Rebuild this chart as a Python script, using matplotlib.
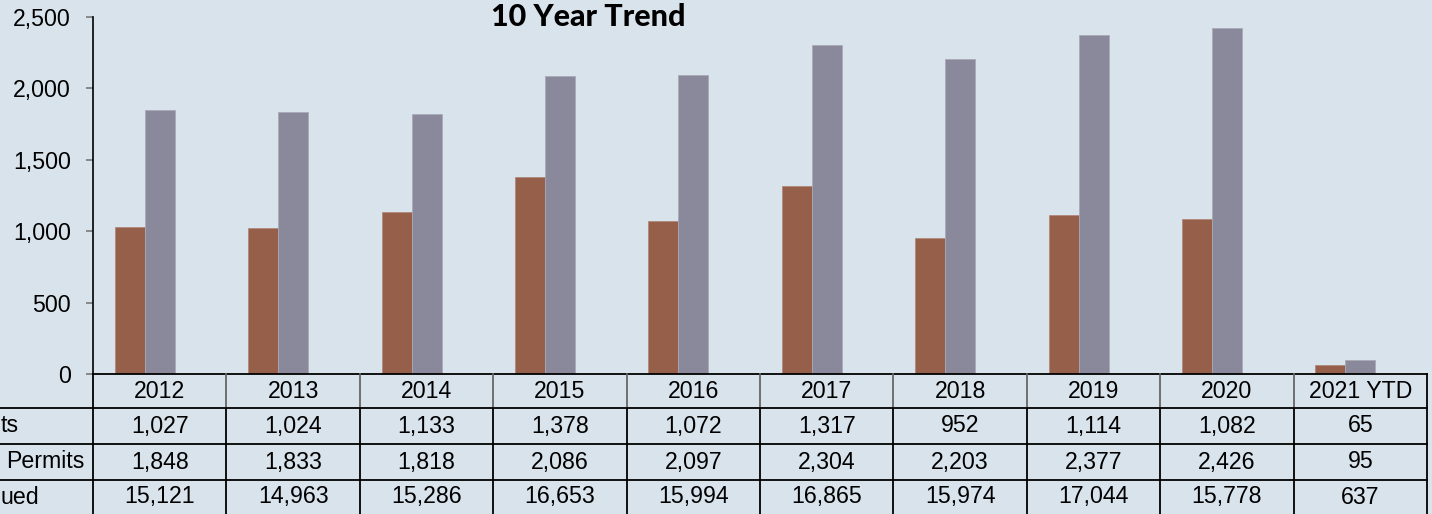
#!/usr/bin/env python3
# -*- coding: utf-8 -*-

import matplotlib
matplotlib.use('Agg')
import matplotlib.pyplot as plt
import numpy as np


years = ['2012', '2013', '2014', '2015', '2016', '2017', '2018', '2019', '2020', '2021 YTD']
units = [1027, 1024, 1133, 1378, 1072, 1317, 952, 1114, 1082, 65]
permits = [1848, 1833, 1818, 2086, 2097, 2304, 2203, 2377, 2426, 95]
issued = [15121, 14963, 15286, 16653, 15994, 16865, 15974, 17044, 15778, 637]
row_labels = ['ts', 'Permits', 'ued']

BG = '#d9e3ec'
BROWN = '#955f4a'
GRAY = '#8a899c'

W, H = 1432, 514
X0, X1 = 93, 1427          # plot area left/right, pixels
Y_TOP, Y_AX = 17, 374      # plot area top / x axis, pixels from top
ROW_Y = [374, 408, 444, 480, 516]
# where the (cut off) row labels sit, pixels, and their alignment
LABEL_X = [(1, 'left'), (85, 'right'), (1, 'left')]
FS = 16.7


def run():
    plt.rcParams['font.family'] = ['Liberation Sans', 'DejaVu Sans']
    fig = plt.figure(figsize=(W / 100, H / 100), dpi=100, facecolor=BG)

    ax = fig.add_axes([X0 / W, (H - Y_AX) / H, (X1 - X0) / W, (Y_AX - Y_TOP) / H])
    ax.set_facecolor(BG)
    x = np.arange(len(years))
    w = 30 / ((X1 - X0) / len(years))
    # three-series layout in the original; the third series is not shown
    ax.bar(x - w, units, width=w, color=BROWN, edgecolor='#b08a7c', linewidth=0.6)
    ax.bar(x, permits, width=w, color=GRAY, edgecolor='#a9a9b8', linewidth=0.6)
    ax.set_xlim(-0.5, len(years) - 0.5)
    ax.set_ylim(0, 2500)
    ax.set_yticks(range(0, 2501, 500))
    ax.set_yticklabels([f'{v:,}' for v in range(0, 2501, 500)])
    ax.set_xticks([])
    for s in ['top', 'right', 'bottom']:
        ax.spines[s].set_visible(False)
    ax.spines['left'].set_color('black')
    ax.spines['left'].set_linewidth(1.2)
    ax.tick_params(axis='y', length=5, width=1.2, color='#777777', pad=10.8,
                   labelsize=FS)

    fig.text(588 / W, 1 - 17 / H, '10 Year Trend', ha='center', va='center',
             fontsize=22, fontweight='black', family=['Lato', 'DejaVu Sans'])

    # data table below the axis, drawn in pixel coordinates
    t = fig.add_axes([0, 0, 1, (H - Y_AX) / H])
    t.set_xlim(0, W)
    t.set_ylim(H, Y_AX)
    t.axis('off')
    cw = (X1 - X0) / len(years)
    edges = [X0 + i * cw for i in range(len(years) + 1)]

    t.plot([X0, X1], [ROW_Y[0], ROW_Y[0]], color='black', lw=1.3, clip_on=False)
    for y in ROW_Y[1:4]:
        t.plot([0, X1], [y, y], color='black', lw=1.3, clip_on=False)
    for i, xe in enumerate(edges):
        inner = 0 < i < len(years)
        t.plot([xe, xe], [ROW_Y[0], ROW_Y[1]], color='#666666' if inner else 'black',
               lw=1.3, clip_on=False)
        t.plot([xe, xe], [ROW_Y[1], H], color='black', lw=1.3, clip_on=False)

    rows = [years,
            [f'{v:,}' for v in units],
            [f'{v:,}' for v in permits],
            [f'{v:,}' for v in issued]]
    for r, vals in enumerate(rows):
        yc = (ROW_Y[r] + ROW_Y[r + 1]) / 2
        if r == 3:
            yc = 497
        for i, v in enumerate(vals):
            t.text((edges[i] + edges[i + 1]) / 2, yc, v, ha='center', va='center',
                   fontsize=FS)
        if r > 0:
            lx, lha = LABEL_X[r - 1]
            t.text(lx, yc, row_labels[r - 1], ha=lha, va='center', fontsize=FS)

    fig.savefig('out.png', dpi=100, facecolor=BG)


if __name__ == '__main__':
    run()
